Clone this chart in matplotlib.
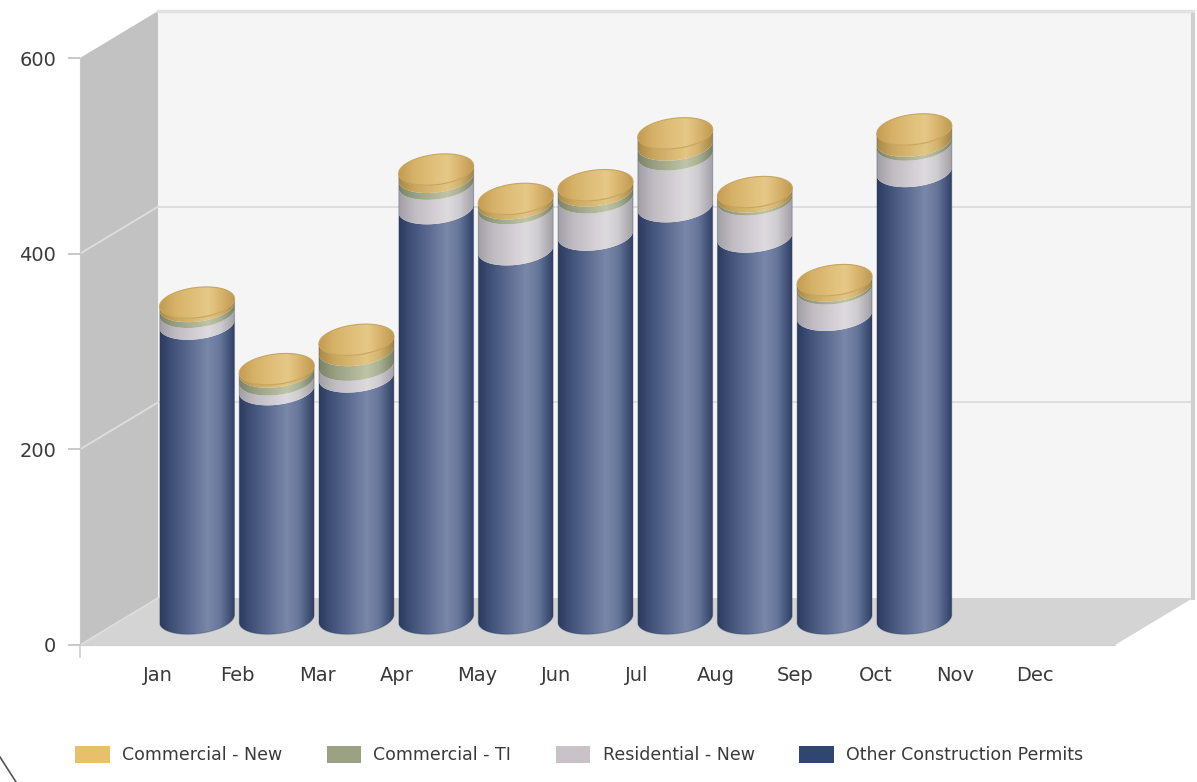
import numpy as np
import matplotlib
matplotlib.use("Agg")
import matplotlib.pyplot as plt
from matplotlib.patches import Polygon, Patch
from matplotlib.lines import Line2D
from matplotlib.colors import LinearSegmentedColormap

# ---------------- data ----------------
months = ["Jan", "Feb", "Mar", "Apr", "May", "Jun", "Jul", "Aug", "Sep", "Oct", "Nov", "Dec"]
other_permits = [301, 234, 247, 419, 377, 392, 421, 390, 310, 457, None, None]
residential_new = [12, 10, 12, 25, 42, 38, 53, 38, 27, 27, None, None]
commercial_ti = [6, 8, 15, 7, 5, 7, 10, 3, 3, 4, None, None]
commercial_new = [4, 3, 11, 8, 5, 6, 12, 5, 6, 12, None, None]
series_names = ["Commercial - New", "Commercial - TI", "Residential - New", "Other Construction Permits"]
y_ticks = [0, 200, 400, 600]

# ---------------- styling ----------------
legend_colors = {"Commercial - New": "#e8c06c", "Commercial - TI": "#9aa283",
                 "Residential - New": "#c9c3c9", "Other Construction Permits": "#2f4672"}
side_cmaps = {
    "Other Construction Permits": ["#2c3b5f", "#44557c", "#7987a9", "#67779b", "#313f66"],
    "Residential - New": ["#a19ea6", "#bfbbc1", "#dedbdf", "#d0cdd1", "#a29fa6"],
    "Commercial - TI": ["#7a8268", "#979e81", "#bfc4a6", "#abb193", "#778066"],
    "Commercial - New": ["#a98946", "#c9a65e", "#e3c683", "#d4b46f", "#a38442"],
}
top_cmap_colors = ["#c29c52", "#d6b268", "#e6c987", "#d9b670", "#bf9950"]
stops = [0.0, 0.2, 0.64, 0.8, 1.0]


def make_cmap(name, cols):
    return LinearSegmentedColormap.from_list(name, list(zip(stops, cols)))


X0, X1 = -0.979, 12.008   # front plane x-limits (category units)
DX, DY = 0.979, 48.0      # depth offset of the back plane
R, B, K = 0.47, 15.5, 4.0  # cylinder radius, ellipse semi-axis (y units), perspective shear

fig = plt.figure(figsize=(11.97, 7.82), dpi=100)
fig.patch.set_facecolor("white")
ax = fig.add_axes([80 / 1197, (782 - 645) / 782, 1035 / 1197, 587 / 782])
ax.set_facecolor("none")

# ---------------- walls ----------------
left_wall = Polygon([(X0, 0), (X0, 600), (X0 + DX, 600 + DY), (X0 + DX, DY)], closed=True,
                    facecolor="#c2c2c2", edgecolor="none", clip_on=False, zorder=0)
back_wall = Polygon([(X0 + DX, DY), (X0 + DX, 600 + DY), (X1 + DX, 600 + DY), (X1 + DX, DY)],
                    closed=True, facecolor="#f5f5f5", edgecolor="none", clip_on=False, zorder=0)
floor = Polygon([(X0, 0), (X1, 0), (X1 + DX, DY), (X0 + DX, DY)], closed=True,
                facecolor="#d4d4d4", edgecolor="none", clip_on=False, zorder=0.5)
for p in (left_wall, back_wall, floor):
    ax.add_patch(p)

for v in y_ticks[1:-1]:
    ax.plot([X0 + DX, X1 + DX], [v + DY, v + DY], color="#dadada", lw=1.2, clip_on=False, zorder=0.6)
    ax.plot([X0, X0 + DX], [v, v + DY], color="#dcdcdc", lw=1.4, clip_on=False, zorder=0.6)
# back wall borders
ax.plot([X0 + DX, X1 + DX], [600 + DY, 600 + DY], color="#e2e2e2", lw=2.5, clip_on=False, zorder=0.6)
ax.plot([X1 + DX, X1 + DX], [DY, 600 + DY - 4], color="#cfcfcf", lw=3, clip_on=False, zorder=0.6)
ax.plot([X0, X0 + DX], [0, DY], color="#dedede", lw=1.2, clip_on=False, zorder=0.7)

# ---------------- cylinders ----------------
t_low = np.linspace(np.pi, 2 * np.pi, 80)
t_full = np.linspace(0, 2 * np.pi, 160)


def arc(cx, cy, t):
    return np.column_stack([cx + R * np.cos(t), cy + B * np.sin(t) + K * np.cos(t)])


def shaded(verts, cmap, x0, x1, y0, y1, z):
    poly = Polygon(verts, closed=True, facecolor="none", edgecolor="none", transform=ax.transData)
    ax.add_patch(poly)
    grad = np.linspace(0, 1, 256).reshape(1, -1)
    im = ax.imshow(grad, cmap=cmap, extent=(x0, x1, y0, y1), aspect="auto",
                   origin="lower", interpolation="bilinear", zorder=z)
    im.set_clip_path(poly)


stack_order = ["Other Construction Permits", "Residential - New", "Commercial - TI", "Commercial - New"]
series_vals = {"Other Construction Permits": other_permits, "Residential - New": residential_new,
               "Commercial - TI": commercial_ti, "Commercial - New": commercial_new}
cmaps = {k: make_cmap(k, v) for k, v in side_cmaps.items()}
top_cmap = make_cmap("top", top_cmap_colors)

for i, m in enumerate(months):
    if other_permits[i] is None:
        continue
    cx = i + DX / 2
    base = DY / 2 + 3
    z = 3 + i * 0.01
    level = base
    for name in stack_order:
        v = series_vals[name][i]
        lo, hi = level, level + v
        top_arc = arc(cx, hi, t_low)
        bot_arc = arc(cx, lo, t_low[::-1])
        verts = np.vstack([top_arc, bot_arc])
        shaded(verts, cmaps[name], cx - R, cx + R, lo - B - K, hi + B + K, z)
        level = hi
    # top face
    face = arc(cx, level, t_full)
    shaded(face, top_cmap, cx - R, cx + R, level - B - K, level + B + K, z + 0.001)
    ax.add_patch(Polygon(face, closed=True, facecolor="none", edgecolor="#c8a55e", lw=0.8, zorder=z + 0.002))
    # thin outline of the sides
    ax.add_patch(Polygon(np.vstack([[cx - R, level - K], arc(cx, base, t_low), [cx + R, level + K]]),
                         closed=False, facecolor="none", edgecolor=(0.15, 0.2, 0.3, 0.3), lw=0.8, zorder=z + 0.001))

# ---------------- axes ----------------
ax.set_xlim(X0, X1)
ax.set_ylim(0, 600)
for s in ("top", "right"):
    ax.spines[s].set_visible(False)
ax.spines["left"].set_color("#c8c8c8")
ax.spines["bottom"].set_color("#d0d0d0")
ax.spines["left"].set_zorder(5)
ax.spines["bottom"].set_zorder(5)

ax.set_yticks(y_ticks)
ax.set_yticklabels([str(v) for v in y_ticks])
ax.tick_params(axis="y", length=9, width=1.2, color="#c0c0c0", pad=8, labelsize=14, labelcolor="#3a3a3a")

ax.set_xticks(range(len(months)))
ax.set_xticklabels(months)
ax.tick_params(axis="x", which="major", length=0, pad=15, labelsize=14, labelcolor="#3a3a3a")
ax.set_xticks([X0] + list(range(1, len(months), 2)), minor=True)
ax.tick_params(axis="x", which="minor", length=9, width=1.2, color="#d0d0d0")

# ---------------- legend ----------------
handles = [Patch(facecolor=legend_colors[n], edgecolor="none", label=n) for n in series_names]
fig.legend(handles=handles, loc="center", bbox_to_anchor=(579 / 1197, 1 - 755 / 782), ncol=4,
           frameon=False, fontsize=12.5, handlelength=2.0, handleheight=1.1, handletextpad=0.7,
           columnspacing=2.55, labelcolor="#3a3a3a")

# screenshot corner mark
fig.add_artist(Line2D([0, 16 / 1197], [1 - 757 / 782, 0], color="#555555", lw=1.2))

fig.savefig("out.png", dpi=100, facecolor="white")
